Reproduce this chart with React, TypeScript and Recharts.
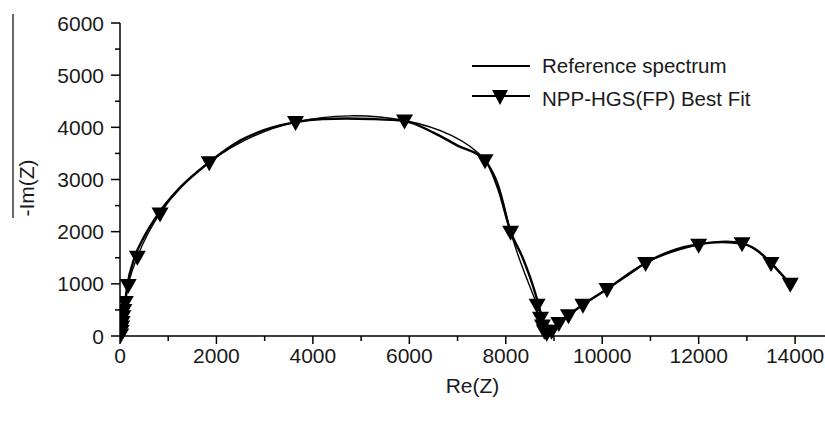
import React from "react";
import { ComposedChart, Line, XAxis, YAxis } from "recharts";

const refX = [0, 20, 50, 100, 150, 300, 500, 800, 1200, 1850, 2500, 3000, 3640, 4200, 4700, 5200, 5900, 6500, 7000, 7570, 7850, 8100, 8350, 8550, 8680, 8760, 8800, 8850, 8950, 9100, 9300, 9600, 10100, 10500, 10900, 11500, 12000, 12500, 12900, 13200, 13500, 13700, 13900];
const refY = [0, 100, 300, 600, 950, 1500, 1900, 2350, 2800, 3330, 3750, 3950, 4100, 4160, 4170, 4160, 4120, 3900, 3650, 3370, 2800, 2000, 1500, 1000, 600, 300, 120, 60, 100, 250, 400, 600, 900, 1150, 1400, 1650, 1760, 1800, 1770, 1650, 1400, 1200, 1000];

const fitX = [15, 25, 35, 45, 60, 80, 110, 170, 360, 830, 1850, 3640, 5900, 7570, 8100, 8650, 8720, 8760, 8800, 8850, 8950, 9100, 9300, 9600, 10100, 10900, 12000, 12900, 13500, 13900];
const fitY = [30, 100, 180, 270, 380, 500, 650, 980, 1520, 2350, 3330, 4100, 4130, 3370, 2000, 600, 350, 200, 100, 60, 100, 250, 400, 600, 900, 1400, 1750, 1780, 1400, 1000];

const xTicks = [0, 2000, 4000, 6000, 8000, 10000, 12000, 14000];
const yTicks = [0, 1000, 2000, 3000, 4000, 5000, 6000];

const refData = refX.map((x, i) => ({ x, y: refY[i] }));
const fitData = fitX.map((x, i) => ({ x, y: fitY[i] }));

const FONT = "Liberation Sans, Arial, sans-serif";
const TXT = "#1a1a1a";

const xAll: number[] = [];
for (let v = 0; v <= 14000; v += 1000) xAll.push(v);
const yAll: number[] = [];
for (let v = 0; v <= 6000; v += 500) yAll.push(v);

const XTick = (props: any) => {
  const { x, y, payload } = props;
  const major = xTicks.includes(payload.value);
  return (
    <g>
      <line x1={x} y1={y} x2={x} y2={y + (major ? 8 : 5)} stroke="#000" strokeWidth={1.5} />
      {major && (
        <text x={x} y={y + 27} textAnchor="middle" fontSize={21} fontFamily={FONT} fill={TXT}>
          {payload.value}
        </text>
      )}
    </g>
  );
};

const YTick = (props: any) => {
  const { x, y, payload } = props;
  const major = yTicks.includes(payload.value);
  return (
    <g>
      <line x1={x} y1={y} x2={x - (major ? 9 : 5)} y2={y} stroke="#000" strokeWidth={1.5} />
      {major && (
        <text x={x - 16} y={y + 7.5} textAnchor="end" fontSize={21} fontFamily={FONT} fill={TXT}>
          {payload.value}
        </text>
      )}
    </g>
  );
};

const Tri = (props: any) => {
  const { cx, cy } = props;
  if (cx == null || cy == null) return null;
  const s = 8.5;
  return (
    <path d={`M${cx - s},${cy - 6} L${cx + s},${cy - 6} L${cx},${cy + 9} Z`} fill="#000" />
  );
};

export default function App() {
  return (
    <div style={{ position: "relative", width: 825, height: 423, background: "#fff" }}>
      <style>{`body{margin:0}`}</style>
      <ComposedChart width={825} height={423} margin={{ top: 23, right: 0, bottom: 0, left: 0 }}>
        <XAxis
          type="number"
          dataKey="x"
          domain={[0, 14620]}
          ticks={xAll}
          interval={0}
          tick={<XTick />}
          tickLine={false}
          tickSize={0}
          tickMargin={0}
          axisLine={{ stroke: "#000", strokeWidth: 1.5 }}
          height={87}
          allowDataOverflow
          label={{ value: "Re(Z)", position: "insideBottom", offset: 30, fontSize: 21, fontFamily: FONT, fill: TXT } as any}
        />
        <YAxis
          type="number"
          dataKey="y"
          domain={[0, 6000]}
          ticks={yAll}
          interval={0}
          tick={<YTick />}
          tickLine={false}
          tickSize={0}
          tickMargin={0}
          axisLine={{ stroke: "#000", strokeWidth: 1.5 }}
          width={120}
          label={() => (
            <g>
              <line x1={13} y1={14} x2={13} y2={218} stroke="#000" strokeWidth={1.2} />
              <text x={34} y={188} transform={`rotate(-90 34 188)`} textAnchor="middle" fontSize={21} fontFamily={FONT} fill={TXT}>
                -Im(Z)
              </text>
            </g>
          )}
        />
        <Line
          data={refData}
          dataKey="y"
          name="Reference spectrum"
          type="monotone"
          stroke="#000"
          strokeWidth={2.4}
          dot={false}
          isAnimationActive={false}
        />
        <Line
          data={fitData}
          dataKey="y"
          name="NPP-HGS(FP) Best Fit"
          type="natural"
          stroke="#000"
          strokeWidth={1.4}
          dot={<Tri />}
          isAnimationActive={false}
        />
      </ComposedChart>
      <div style={{ position: "absolute", left: 470, top: 50, fontFamily: FONT, fontSize: 20.5, color: TXT }}>
        <div style={{ display: "flex", alignItems: "center", height: 32 }}>
          <svg width={72} height={20}>
            <line x1={2} y1={10} x2={60} y2={10} stroke="#000" strokeWidth={2} />
          </svg>
          <span>Reference spectrum</span>
        </div>
        <div style={{ display: "flex", alignItems: "center", height: 34 }}>
          <svg width={72} height={22}>
            <line x1={2} y1={8} x2={60} y2={8} stroke="#000" strokeWidth={2} />
            <path d="M22,2 L38,2 L30,17 Z" fill="#000" />
          </svg>
          <span>NPP-HGS(FP) Best Fit</span>
        </div>
      </div>
    </div>
  );
}
